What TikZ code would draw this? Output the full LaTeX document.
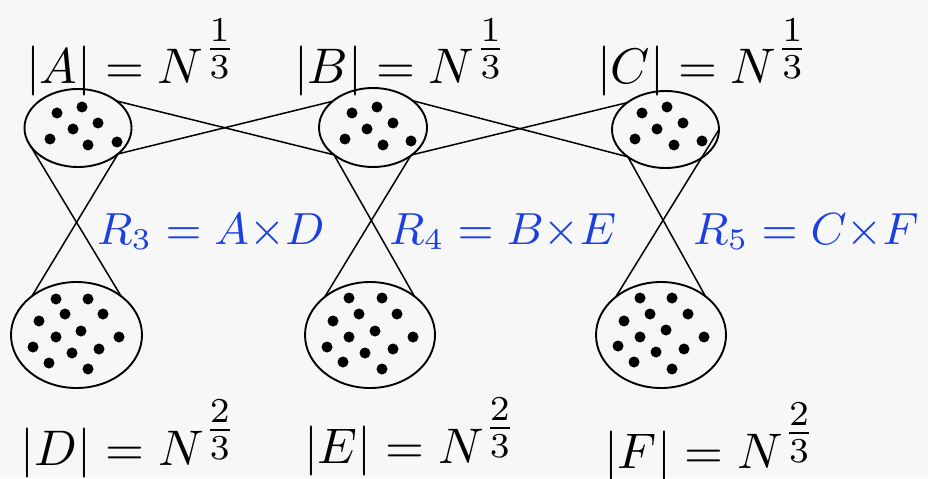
\documentclass[tikz,border=0pt]{standalone}
\usepackage{amsmath}
\usepackage{tikz}
\definecolor{bggray}{RGB}{247,247,247}
\definecolor{relblue}{RGB}{28,64,222}
\tikzset{
  setell/.style={draw, ellipse, line width=0.38pt, inner sep=0pt, outer sep=0pt},
  sizelab/.style={anchor=base west, inner sep=0pt, font=\fontsize{10}{12}\selectfont},
  rellab/.style={anchor=base west, inner sep=0pt, text=relblue,
    font={\fontsize{9}{11}\selectfont\medmuskip=0mu\relax}},
  link/.style={line width=0.3pt}
}
\usetikzlibrary{shapes.geometric}
\begin{document}
\begin{tikzpicture}[x=0.2pt, y=-0.2pt]
\fill[bggray] (0,0) rectangle (928,478);
\useasboundingbox (0,0) rectangle (928,478);
% the six sets
\node[setell, minimum width=21.4pt, minimum height=15.6pt] (A) at (78,128) {};
\node[setell, minimum width=21.6pt, minimum height=15.8pt] (B) at (373,127.5) {};
\node[setell, minimum width=21.4pt, minimum height=15.4pt] (C) at (665.5,129.5) {};
\node[setell, minimum width=26.2pt, minimum height=21.2pt] (D) at (76.5,335) {};
\node[setell, minimum width=26pt, minimum height=21.2pt] (E) at (370,335) {};
\node[setell, minimum width=26pt, minimum height=21.2pt] (F) at (661,335) {};
% links between the sets
\draw[link] (A.35) -- (B.215);
\draw[link] (A.327) -- (B.147);
\draw[link] (B.34) -- (C.216);
\draw[link] (B.325) -- (C.145);
\draw[link] (A.196) -- (D.41);
\draw[link] (A.327) -- (D.139);
\draw[link] (B.215) -- (E.41);
\draw[link] (B.323) -- (E.140);
\draw[link] (C.0) -- (F.140);
\draw[link] (C.216) -- (F.41);
% elements of A
\fill (57,113) circle (5.5);
\fill (82,107) circle (5.5);
\fill (98,123) circle (5.5);
\fill (73,129) circle (5.5);
\fill (50,139) circle (5.5);
\fill (88,145) circle (5.5);
\fill (117,142) circle (5.5);
% elements of B
\fill (352,113) circle (5.5);
\fill (377,107) circle (5.5);
\fill (393,123) circle (5.5);
\fill (367,129) circle (5.5);
\fill (345,139) circle (5.5);
\fill (383,145) circle (5.5);
\fill (411,141) circle (5.5);
% elements of C
\fill (642,113) circle (5.5);
\fill (667,107) circle (5.5);
\fill (683,123) circle (5.5);
\fill (657,129) circle (5.5);
\fill (635,139) circle (5.5);
\fill (674,145) circle (5.5);
\fill (702,141) circle (5.5);
% elements of D
\fill (56,299) circle (5.5);
\fill (88,299) circle (5.5);
\fill (65,314) circle (5.5);
\fill (103,314) circle (5.5);
\fill (39,321) circle (5.5);
\fill (81,331) circle (5.5);
\fill (56,337) circle (5.5);
\fill (119,337) circle (5.5);
\fill (33,347) circle (5.5);
\fill (99,349) circle (5.5);
\fill (72,353) circle (5.5);
\fill (49,363) circle (5.5);
\fill (88,369) circle (5.5);
% elements of E
\fill (349,298) circle (5.5);
\fill (382,298) circle (5.5);
\fill (359,314) circle (5.5);
\fill (397,314) circle (5.5);
\fill (333,321) circle (5.5);
\fill (375,331) circle (5.5);
\fill (349,337) circle (5.5);
\fill (413,337) circle (5.5);
\fill (327,347) circle (5.5);
\fill (393,349) circle (5.5);
\fill (365,353) circle (5.5);
\fill (343,362) circle (5.5);
\fill (382,369) circle (5.5);
% elements of F
\fill (640,298) circle (5.5);
\fill (672,298) circle (5.5);
\fill (650,314) circle (5.5);
\fill (688,314) circle (5.5);
\fill (624,321) circle (5.5);
\fill (666,330) circle (5.5);
\fill (640,337) circle (5.5);
\fill (704,337) circle (5.5);
\fill (618,346) circle (5.5);
\fill (684,349) circle (5.5);
\fill (656,352) circle (5.5);
\fill (634,362) circle (5.5);
\fill (672,369) circle (5.5);
% sizes
\node[sizelab] (sA) at (25,84) {$|A| = N^{\tfrac{1}{3}}$};
\node[sizelab] (sB) at (293,84) {$|B| = N^{\tfrac{1}{3}}$};
\node[sizelab] (sC) at (596,84) {$|C| = N^{\tfrac{1}{3}}$};
\node[sizelab] (sD) at (20,465) {$|D| = N^{\tfrac{2}{3}}$};
\node[sizelab] (sE) at (303,463) {$|E| = N^{\tfrac{2}{3}}$};
\node[sizelab] (sF) at (603,468) {$|F| = N^{\tfrac{2}{3}}$};
% relations
\node[rellab] (r3) at (96,244) {$R_3 = A\times D$};
\node[rellab] (r4) at (388,244) {$R_4 = B\times E$};
\node[rellab] (r5) at (692,244) {$R_5 = C\times F$};
\end{tikzpicture}
\end{document}
